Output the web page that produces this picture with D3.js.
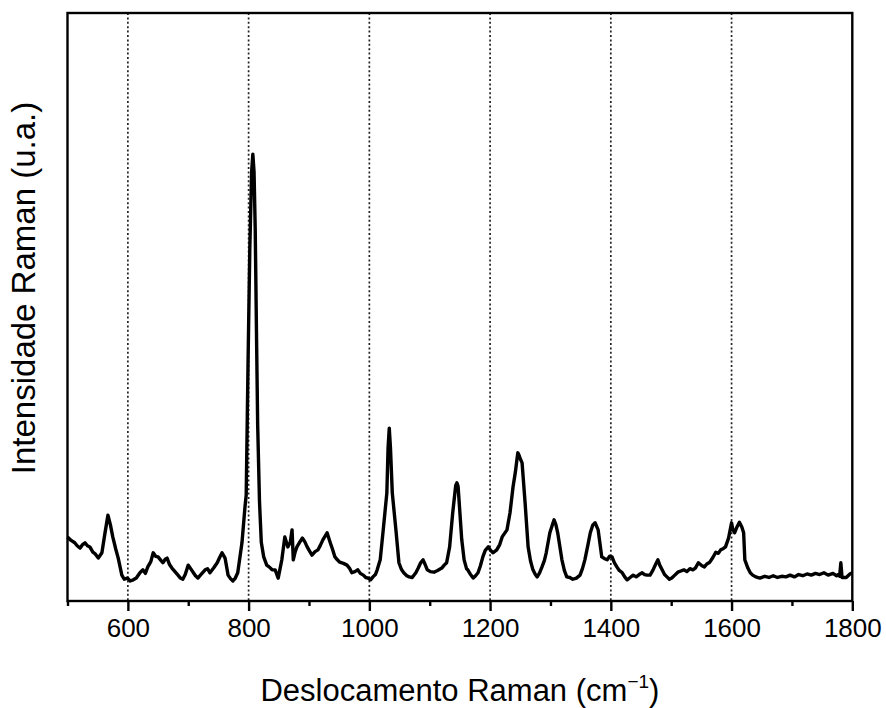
<!DOCTYPE html>
<html>
<head>
<meta charset="utf-8">
<script src="https://cdn.jsdelivr.net/npm/d3@7"></script>
<style>
html,body{margin:0;padding:0;background:#fff;}
text{font-family:"Liberation Sans",Arial,sans-serif;fill:#000;}
</style>
</head>
<body>
<svg id="chart" width="886" height="708"></svg>
<script>
const ramanShift = [500,506,512,516,521,525,529,533,537,542,546,551,557,562,567,571,575,580,584,590,594,599,604,609,614,620,625,629,633,638,642,646,650,654,658,662,665,669,673,678,683,687,691,695,700,704,708,712,716,722,728,732,736,742,748,752,756,761,766,770,774,778,782,789,794,796,799,802,805,807,809,811,813,815,818,821,825,830,834,839,844,849,855,860,865,869,872,874,877,880,884,889,893,897,901,905,910,915,919,923,930,935,939,943,947,951,957,963,967,971,976,981,985,990,994,998,1002,1006,1010,1013,1018,1023,1029,1031,1033,1035,1038,1044,1049,1053,1057,1062,1066,1071,1077,1081,1085,1089,1092,1096,1101,1107,1113,1120,1124,1128,1133,1138,1143,1145,1147,1150,1153,1157,1161,1163,1167,1172,1176,1180,1184,1188,1192,1197,1201,1205,1211,1216,1220,1224,1228,1233,1238,1242,1245,1246,1248,1250,1253,1258,1263,1267,1271,1275,1278,1282,1286,1290,1293,1299,1303,1306,1309,1312,1319,1323,1327,1332,1337,1343,1349,1353,1357,1362,1366,1370,1374,1379,1385,1390,1394,1398,1402,1406,1410,1414,1419,1423,1427,1432,1437,1442,1447,1452,1456,1460,1465,1470,1474,1478,1481,1485,1489,1493,1497,1501,1506,1511,1516,1521,1526,1531,1536,1540,1545,1551,1555,1559,1564,1569,1574,1578,1582,1586,1590,1595,1600,1602,1605,1609,1613,1617,1620,1622,1627,1631,1635,1640,1647,1655,1662,1669,1676,1683,1690,1697,1704,1711,1718,1725,1732,1739,1746,1753,1760,1768,1774,1777,1779,1781,1783,1790,1796,1800];
const intensity = [10.9,10.3,9.9,9.4,9.0,9.6,9.9,9.4,9.2,8.3,8.0,7.3,8.2,11.5,14.6,13.0,10.9,8.8,7.3,4.4,3.7,3.9,3.4,3.6,3.9,4.8,5.3,4.7,5.8,6.7,8.2,7.6,7.5,7.0,6.5,7.1,7.3,6.2,5.6,5.0,4.4,3.9,3.7,4.5,6.1,5.5,4.9,4.3,3.9,4.6,5.3,5.5,4.8,5.6,6.5,7.4,8.2,7.3,4.4,3.8,3.4,3.9,4.8,9.9,16.0,18,40,60,73,76,73,63,46,30,17,10,7.5,6.1,5.8,5.3,5.3,3.9,7.0,10.9,9.2,10.0,12.1,7.0,8.3,9.2,9.9,10.7,10.1,9.2,8.5,7.8,8.4,8.7,9.5,10.4,11.6,10.0,8.8,7.5,7.0,6.6,6.4,6.1,5.6,4.8,5.0,5.3,4.7,4.4,4.0,3.9,3.6,4.1,4.5,5.3,7.0,12.1,18.4,26,29.4,26,18.4,12.1,6.5,5.4,4.8,4.3,4.1,4.0,4.8,5.6,6.5,7.0,6.3,5.3,5.0,4.9,5.2,5.6,6.1,6.5,9.2,14.9,19.6,20.1,19.5,15,10.5,7,5.5,5.3,4.6,3.9,4.3,4.8,6.0,7.5,8.6,9.2,8.6,8.2,8.7,9.6,10.9,11.5,12.1,15.0,19.4,22.0,24.5,25.2,24.8,24.2,23.5,16.7,9.2,6.8,5.3,4.5,4.1,4.8,5.8,6.9,8.2,11.6,12.9,13.8,13.0,11.6,7.0,5.2,4.1,4.0,3.7,3.9,4.4,5.5,7.0,9.5,11.6,12.9,13.3,12.1,7.5,7.2,7.0,7.6,7.5,6.5,5.8,5.2,4.8,4.1,3.6,4.0,4.4,4.1,4.5,4.8,4.5,4.4,4.4,5.3,6.2,7.0,6.1,5.3,4.5,4.1,3.7,3.9,4.4,4.9,5.1,5.3,5.0,5.5,5.3,5.6,6.5,6.0,5.8,6.3,6.6,7.4,8.3,8.1,8.7,8.9,9.2,10.7,13.3,12.2,11.6,12.6,13.4,12.6,11.6,7.0,5.6,4.8,4.4,4.1,3.9,4.2,4.0,4.3,4.0,4.2,4.1,4.4,4.1,4.5,4.3,4.6,4.4,4.7,4.5,4.8,4.4,4.7,4.3,4.5,4.2,6.5,4.0,4.0,4.6,4.8,4.6];
const majorTicks = [600,800,1000,1200,1400,1600,1800];
const minorTicks = [500,700,900,1100,1300,1500,1700];
const gridValues = [600,800,1000,1200,1400,1600];
const xTitle = "Deslocamento Raman (cm";
const yTitle = "Intensidade Raman (u.a.)";

const svg = d3.select("#chart");
const L = 67.5, R = 852.3, T = 13, B = 601;
const x = d3.scaleLinear().domain([500,1800]).range([L,R]);
const y = d3.scaleLinear().domain([0,100]).range([B,T]);

// grid
svg.append("g").selectAll("line").data(gridValues).join("line")
  .attr("x1",d=>x(d)).attr("x2",d=>x(d)).attr("y1",T).attr("y2",B)
  .attr("stroke","#222").attr("stroke-width",1.7).attr("stroke-dasharray","2,2.4");

// spectrum
const pts = ramanShift.map((d,i)=>[d,intensity[i]]);
svg.append("path").datum(pts)
  .attr("d", d3.line().x(d=>x(d[0])).y(d=>y(d[1])))
  .attr("fill","none").attr("stroke","#000").attr("stroke-width",3.4)
  .attr("stroke-linejoin","round");

// frame
svg.append("rect").attr("x",L).attr("y",T).attr("width",R-L).attr("height",B-T)
  .attr("fill","none").attr("stroke","#000").attr("stroke-width",2.4);

// x axis
const gx = svg.append("g").attr("transform",`translate(0,${B})`);
gx.call(d3.axisBottom(x).tickValues(majorTicks).tickSize(10).tickPadding(8).tickFormat(d3.format("d")));
gx.call(g=>g.select(".domain").remove());
gx.selectAll(".tick line").attr("stroke","#000").attr("stroke-width",2.4);
gx.selectAll(".tick text").attr("font-size",26).attr("font-family","Liberation Sans, Arial, sans-serif").attr("fill","#000");
const gm = svg.append("g").attr("transform",`translate(0,${B})`);
gm.call(d3.axisBottom(x).tickValues(minorTicks).tickSize(5).tickFormat(""));
gm.call(g=>g.select(".domain").remove());
gm.selectAll(".tick line").attr("stroke","#000").attr("stroke-width",2.4);

// titles
const xt = svg.append("text").attr("x",(L+R)/2).attr("y",701).attr("text-anchor","middle").attr("font-size",31);
xt.append("tspan").text(xTitle);
xt.append("tspan").attr("font-size",19).attr("dy",-13).text("\u22121");
xt.append("tspan").attr("dy",13).text(")");

svg.append("text").attr("transform",`translate(35,288) rotate(-90)`)
  .attr("text-anchor","middle").attr("font-size",33).text(yTitle);
</script>
</body>
</html>
